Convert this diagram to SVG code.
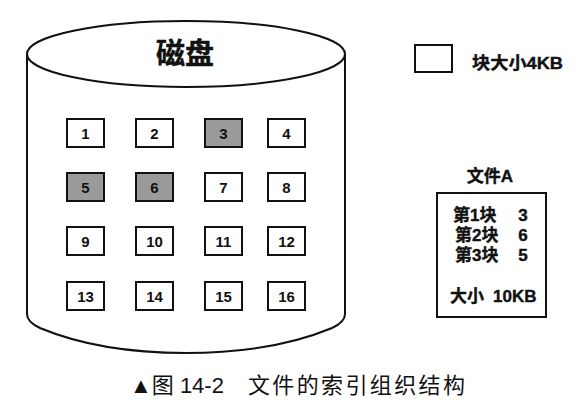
<svg xmlns="http://www.w3.org/2000/svg" width="581" height="415" viewBox="0 0 581 415">
<style>
.t{font-family:"Liberation Sans","Noto Sans CJK SC",sans-serif;fill:#111;}
.b{font-weight:bold;stroke:#111;stroke-width:0.4;}
.blk{fill:#fff;stroke:#111;stroke-width:2;}
.sh{fill:#9a9a9a;}
.num{font-family:"Liberation Sans",sans-serif;font-weight:bold;font-size:15px;fill:#111;text-anchor:middle;}
.line{fill:none;stroke:#111;stroke-width:2;}
</style>
<rect width="581" height="415" fill="#fff"/>
<g id="disk">
<path class="line" d="M27,54 L27,314 Q27,322 40,328 Q100,353 186,353 Q272,353 332,328 Q345,322 345,314 L345,54"/>
<ellipse class="line" cx="186" cy="54" rx="159" ry="33" fill="#fff"/>
<text class="t b" x="185" y="64" font-size="29" text-anchor="middle">磁盘</text>
</g>
<g id="block1"><rect class="blk" x="67" y="119" width="37" height="28"/><text class="num" x="85.5" y="138.5">1</text></g>
<g id="block2"><rect class="blk" x="136" y="119" width="37" height="28"/><text class="num" x="154.5" y="138.5">2</text></g>
<g id="block3"><rect class="blk sh" x="205" y="119" width="37" height="28"/><text class="num" x="223.5" y="138.5">3</text></g>
<g id="block4"><rect class="blk" x="268" y="119" width="37" height="28"/><text class="num" x="286.5" y="138.5">4</text></g>
<g id="block5"><rect class="blk sh" x="67" y="173" width="37" height="28"/><text class="num" x="85.5" y="192.5">5</text></g>
<g id="block6"><rect class="blk sh" x="136" y="173" width="37" height="28"/><text class="num" x="154.5" y="192.5">6</text></g>
<g id="block7"><rect class="blk" x="205" y="173" width="37" height="28"/><text class="num" x="223.5" y="192.5">7</text></g>
<g id="block8"><rect class="blk" x="268" y="173" width="37" height="28"/><text class="num" x="286.5" y="192.5">8</text></g>
<g id="block9"><rect class="blk" x="67" y="227" width="37" height="28"/><text class="num" x="85.5" y="246.5">9</text></g>
<g id="block10"><rect class="blk" x="136" y="227" width="37" height="28"/><text class="num" x="154.5" y="246.5">10</text></g>
<g id="block11"><rect class="blk" x="205" y="227" width="37" height="28"/><text class="num" x="223.5" y="246.5">11</text></g>
<g id="block12"><rect class="blk" x="268" y="227" width="37" height="28"/><text class="num" x="286.5" y="246.5">12</text></g>
<g id="block13"><rect class="blk" x="67" y="282" width="37" height="28"/><text class="num" x="85.5" y="301.5">13</text></g>
<g id="block14"><rect class="blk" x="136" y="282" width="37" height="28"/><text class="num" x="154.5" y="301.5">14</text></g>
<g id="block15"><rect class="blk" x="205" y="282" width="37" height="28"/><text class="num" x="223.5" y="301.5">15</text></g>
<g id="block16"><rect class="blk" x="268" y="282" width="37" height="28"/><text class="num" x="286.5" y="301.5">16</text></g>
<g id="legend">
<rect class="blk" x="415" y="45" width="37" height="27"/>
<text class="t b" x="472" y="69" font-size="17" textLength="91" lengthAdjust="spacingAndGlyphs">块大小4KB</text>
</g>
<g id="fileA">
<text class="t b" x="490" y="182" font-size="17" text-anchor="middle">文件A</text>
<rect class="blk" x="437" y="193" width="109" height="124"/>
<text class="t b" x="453" y="221" font-size="17">第1块</text><text class="t b" x="523" y="221" font-size="17" text-anchor="middle">3</text>
<text class="t b" x="455" y="241" font-size="17">第2块</text><text class="t b" x="523" y="241" font-size="17" text-anchor="middle">6</text>
<text class="t b" x="455" y="261" font-size="17">第3块</text><text class="t b" x="523" y="261" font-size="17" text-anchor="middle">5</text>
<text class="t b" x="450" y="302" font-size="17">大小<tspan x="493">10KB</tspan></text>
</g>
<g id="caption">
<text class="t" x="130" y="393" font-size="22" fill="#222">▲图 14-2</text>
<text class="t" x="248" y="393" font-size="22" fill="#222" textLength="217" lengthAdjust="spacing">文件的索引组织结构</text>
</g>
</svg>
